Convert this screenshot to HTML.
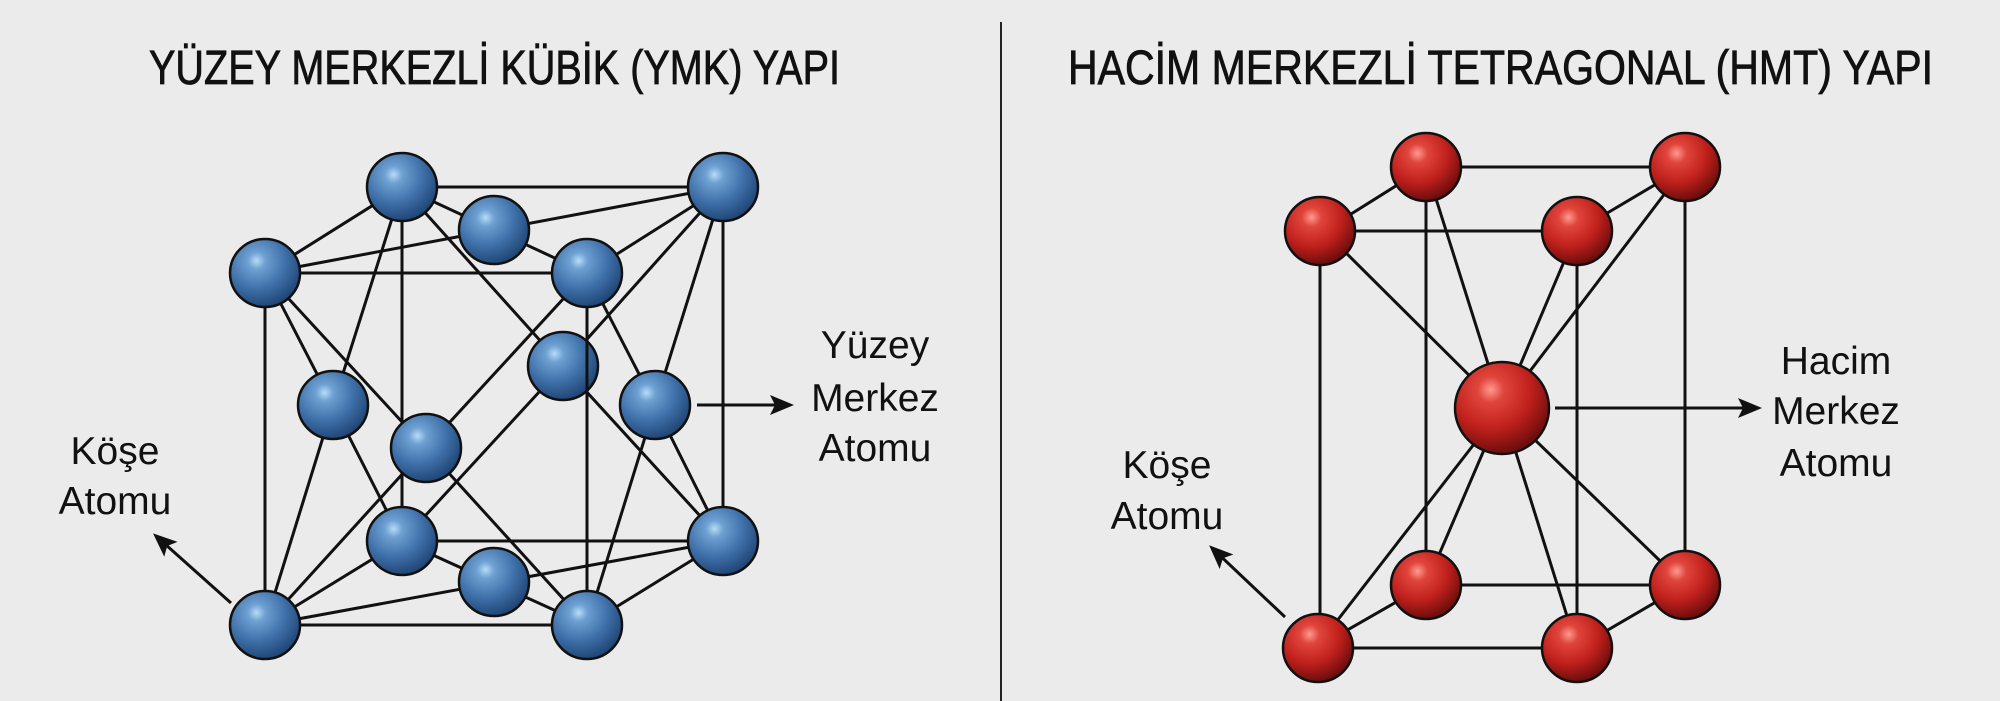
<!DOCTYPE html>
<html><head><meta charset="utf-8"><style>
html,body{margin:0;padding:0;background:#ebebeb;}
svg{display:block;}
text{font-family:"Liberation Sans",sans-serif;fill:#111;}
</style></head><body>
<svg width="2000" height="701" viewBox="0 0 2000 701" xmlns="http://www.w3.org/2000/svg">
<defs>
<radialGradient id="gb" cx="0.38" cy="0.32" r="0.7">
<stop offset="0" stop-color="#b6dcf7"/><stop offset="0.18" stop-color="#6ea0d2"/><stop offset="0.6" stop-color="#3e6fa8"/><stop offset="1" stop-color="#1f4474"/>
</radialGradient>
<radialGradient id="gr" cx="0.38" cy="0.3" r="0.7">
<stop offset="0" stop-color="#ff9a90"/><stop offset="0.2" stop-color="#e0453c"/><stop offset="0.6" stop-color="#c1211c"/><stop offset="1" stop-color="#6e0d0d"/>
</radialGradient>
<marker id="ah2" markerWidth="24" markerHeight="24" refX="20" refY="12" orient="auto" markerUnits="userSpaceOnUse" viewBox="0 0 24 24">
<path d="M0,2 L24,12 L0,22 L5,12 Z" fill="#111"/>
</marker>
</defs>
<rect width="2000" height="701" fill="#ebebeb"/>
<line x1="1001" y1="22" x2="1001" y2="701" stroke="#222" stroke-width="2"/>

<text x="149" y="84" font-size="48" stroke="#111" stroke-width="0.8" textLength="691" lengthAdjust="spacingAndGlyphs">YÜZEY MERKEZLİ KÜBİK (YMK) YAPI</text>
<text x="1068" y="84" font-size="48" stroke="#111" stroke-width="0.8" textLength="865" lengthAdjust="spacingAndGlyphs">HACİM MERKEZLİ TETRAGONAL (HMT) YAPI</text>

<g stroke="#111" stroke-width="3" fill="none">
<path d="M402,187 L723,187 M265,273 L587,273 M402,187 L265,273 M723,187 L587,273
M402,541 L723,541 M265,625 L587,625 M402,541 L265,625 M723,541 L587,625
M402,187 L402,541 M723,187 L723,541 M265,273 L265,625
M402,187 L587,273 M265,273 L723,187
M402,541 L587,625 M265,625 L723,541
M265,273 L333,405 M402,187 L333,405 M333,405 L265,625 M333,405 L402,541
M587,273 L655,405 M723,187 L655,405 M655,405 L723,541 M655,405 L587,625
M265,273 L426,448 M587,273 L426,448 M426,448 L265,625 M426,448 L587,625
M402,187 L563,366 M723,187 L563,366 M563,366 L402,541 M563,366 L723,541"/>
<path d="M1426,167 L1685,167 M1324,231 L1577,231 M1426,167 L1324,231 M1685,167 L1577,231
M1426,585 L1685,585 M1316,648 L1577,648 M1426,585 L1316,648 M1685,585 L1577,648
M1426,167 L1426,585 M1685,167 L1685,585 M1320,231 L1320,648 M1577,231 L1577,648
M1502,408 L1426,167 M1502,408 L1685,167 M1502,408 L1324,231 M1502,408 L1577,231
M1502,408 L1426,585 M1502,408 L1685,585 M1502,408 L1316,648 M1502,408 L1577,648"/>
</g>

<g stroke="#111" stroke-width="2.5" fill="url(#gb)">
<ellipse cx="402" cy="187" rx="35" ry="34"/>
<ellipse cx="723" cy="187" rx="35" ry="34"/>
<ellipse cx="494" cy="230" rx="35" ry="34"/>
<ellipse cx="265" cy="273" rx="35" ry="34"/>
<ellipse cx="587" cy="273" rx="35" ry="34"/>
<ellipse cx="563" cy="366" rx="35" ry="34"/>
<ellipse cx="333" cy="405" rx="35" ry="34"/>
<ellipse cx="655" cy="405" rx="35" ry="34"/>
<ellipse cx="426" cy="448" rx="35" ry="34"/>
<ellipse cx="402" cy="541" rx="35" ry="34"/>
<ellipse cx="723" cy="541" rx="35" ry="34"/>
<ellipse cx="494" cy="582" rx="35" ry="34"/>
<ellipse cx="265" cy="625" rx="35" ry="34"/>
<ellipse cx="587" cy="625" rx="35" ry="34"/>
</g>
<line x1="587" y1="307" x2="587" y2="591" stroke="#111" stroke-width="3"/>

<g stroke="#111" stroke-width="2.5" fill="url(#gr)">
<ellipse cx="1426" cy="167" rx="35" ry="34"/>
<ellipse cx="1685" cy="167" rx="35" ry="34"/>
<ellipse cx="1320" cy="231" rx="35" ry="34"/>
<ellipse cx="1577" cy="231" rx="35" ry="34"/>
<ellipse cx="1426" cy="585" rx="35" ry="34"/>
<ellipse cx="1685" cy="585" rx="35" ry="34"/>
<ellipse cx="1318" cy="648" rx="35" ry="34"/>
<ellipse cx="1577" cy="648" rx="35" ry="34"/>
<ellipse cx="1502" cy="408" rx="47" ry="46"/>
</g>

<g stroke="#111" stroke-width="3">
<line x1="697" y1="405" x2="790" y2="405" marker-end="url(#ah2)"/>
<line x1="231" y1="603" x2="156" y2="536" marker-end="url(#ah2)"/>
<line x1="1555" y1="408" x2="1758" y2="408" marker-end="url(#ah2)"/>
<line x1="1285" y1="617" x2="1212" y2="548" marker-end="url(#ah2)"/>
</g>

<g font-size="39" text-anchor="middle">
<text x="875" y="358">Yüzey</text>
<text x="875" y="411">Merkez</text>
<text x="875" y="461">Atomu</text>
<text x="115" y="464">Köşe</text>
<text x="115" y="514">Atomu</text>
<text x="1836" y="374">Hacim</text>
<text x="1836" y="424">Merkez</text>
<text x="1836" y="476">Atomu</text>
<text x="1167" y="478">Köşe</text>
<text x="1167" y="529">Atomu</text>
</g>
</svg>
</body></html>
